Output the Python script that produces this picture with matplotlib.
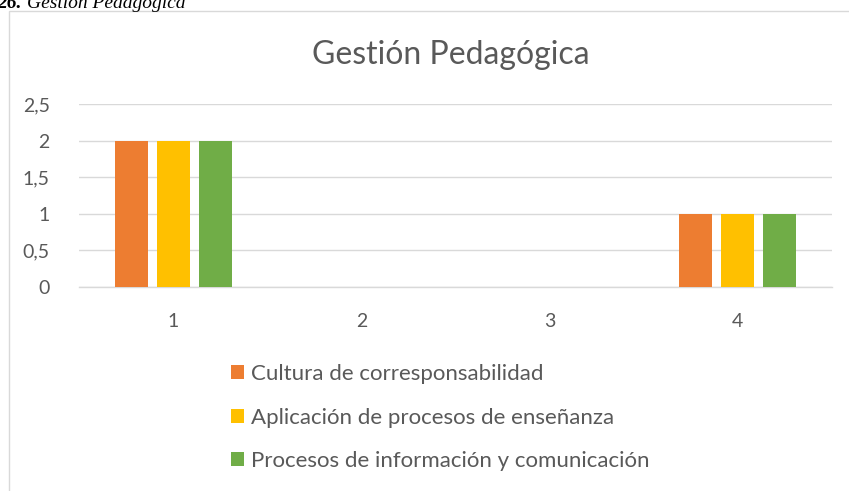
import numpy as np
import matplotlib.pyplot as plt
from matplotlib.patches import Patch, Rectangle

categories = ['1', '2', '3', '4']
cultura = [2, 0, 0, 1]
aplicacion = [2, 0, 0, 1]
procesos = [2, 0, 0, 1]
series_names = ['Cultura de corresponsabilidad',
                'Aplicación de procesos de enseñanza',
                'Procesos de información y comunicación']
colors = ['#ED7D31', '#FFC000', '#70AD47']
yticks = [0, 0.5, 1, 1.5, 2, 2.5]
ytick_labels = ['0', '0,5', '1', '1,5', '2', '2,5']

W, H = 849, 491
fig = plt.figure(figsize=(W / 100, H / 100), dpi=100)
font = 'Lato'
gray = '#595959'
grid = '#D9D9D9'

# chart frame (runs off the right and bottom edges)
fig.patches.append(Rectangle((9 / W, -0.05), 1.0, (H - 11) / H + 0.05,
                             transform=fig.transFigure, fill=False,
                             edgecolor=grid, linewidth=1.0))

# caption, cut off at top of the image
fig.text(-3 / W, 1 - 8 / H, '26.', fontfamily='Liberation Serif', fontsize=14,
         fontweight='bold', fontstyle='italic', va='baseline', ha='left')
fig.text(27 / W, 1 - 8 / H, 'Gestión Pedagógica', fontfamily='Liberation Serif',
         fontsize=14, fontstyle='italic', va='baseline', ha='left')

ax = fig.add_axes([79 / W, 204 / H, 753 / W, 183 / H])
x = np.arange(1, len(categories) + 1)
width = 0.175
step = 0.223
for i, (vals, c) in enumerate(zip([cultura, aplicacion, procesos], colors)):
    ax.bar(x + (i - 1) * step, vals, width, color=c, zorder=3)

ax.set_xlim(0.5, 4.5)
ax.set_ylim(0, 2.5)
ax.set_yticks(yticks)
ax.set_yticklabels(ytick_labels)
ax.set_xticks(x)
ax.set_xticklabels(categories)
ax.grid(axis='y', color=grid, linewidth=1.0, zorder=0)
for s in ['left', 'right', 'top']:
    ax.spines[s].set_visible(False)
ax.spines['bottom'].set_color(grid)
ax.spines['bottom'].set_linewidth(1.0)
ax.tick_params(length=0, labelcolor=gray, labelsize=14)
ax.tick_params(axis='y', pad=21)
ax.tick_params(axis='x', pad=19)
for lab in ax.get_xticklabels() + ax.get_yticklabels():
    lab.set_fontfamily(font)

fig.text(451 / W, 1 - 55 / H, 'Gestión Pedagógica', fontfamily=font,
         fontsize=23, color=gray, ha='center', va='center')

handles = [Patch(facecolor=c) for c in colors]
leg = fig.legend(handles, series_names, loc='upper left',
                 bbox_to_anchor=(231 / W, 1 - 364 / H), frameon=False,
                 prop={'family': font, 'size': 16}, labelcolor=gray,
                 handlelength=0.585, handleheight=0.585, handletextpad=0.32,
                 labelspacing=1.06, borderaxespad=0, borderpad=0)

fig.savefig('out.png', dpi=100)
